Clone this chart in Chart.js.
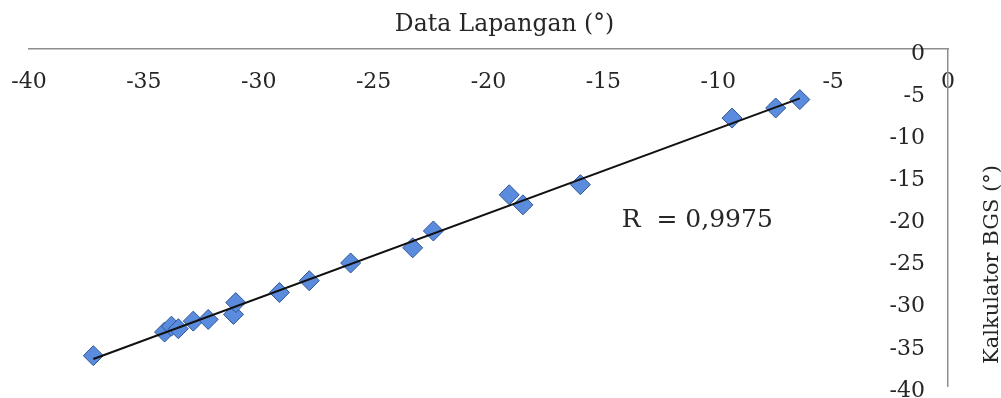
<!DOCTYPE html>
<html>
<head>
<meta charset="utf-8">
<script src="https://cdn.jsdelivr.net/npm/chart.js@4/dist/chart.umd.min.js"></script>
<style>
  html, body { margin: 0; padding: 0; background: #fff; }
  #wrap { width: 1001px; height: 398px; position: relative; }
</style>
</head>
<body>
<div id="wrap"><canvas id="chart"></canvas></div>
<script>
// field data (x) vs BGS calculator (y), in degrees
const dataLapangan = [-37.2, -34.1, -33.8, -33.5, -32.85, -32.2, -31.1, -31.0, -29.1, -27.8, -26.0, -23.3, -22.4, -19.1, -18.5, -16.0, -9.4, -7.5, -6.45];
const kalkulatorBGS = [-36.4, -33.6, -32.9, -33.2, -32.3, -32.1, -31.5, -30.1, -28.9, -27.5, -25.4, -23.6, -21.6, -17.3, -18.5, -16.1, -8.2, -7.0, -6.0];
const rText = 'R  = 0,9975';
const xTitle = 'Data Lapangan (°)';
const yTitle = 'Kalkulator BGS (°)';

const FONT = 'DejaVu Serif';
const TEXT_COLOR = '#262626';
const AXIS_COLOR = '#8e8e8e';

const points = dataLapangan.map((x, i) => ({ x: x, y: kalkulatorBGS[i] }));

// linear trendline (least squares) over the points
const n = points.length;
const mx = dataLapangan.reduce((a, b) => a + b, 0) / n;
const my = kalkulatorBGS.reduce((a, b) => a + b, 0) / n;
let sxy = 0, sxx = 0;
points.forEach(p => { sxy += (p.x - mx) * (p.y - my); sxx += (p.x - mx) * (p.x - mx); });
const slope = sxy / sxx;
const intercept = my - slope * mx;
const xMin = Math.min(...dataLapangan);
const xMax = Math.max(...dataLapangan);
const trend = [
  { x: xMin, y: slope * xMin + intercept },
  { x: xMax, y: slope * xMax + intercept },
];

// axis titles and the R label
const extraText = {
  id: 'extraText',
  afterDraw(chart) {
    const { ctx, chartArea, scales } = chart;
    ctx.save();
    ctx.fillStyle = TEXT_COLOR;
    ctx.textBaseline = 'middle';

    ctx.font = '23.5px "' + FONT + '"';
    ctx.textAlign = 'center';
    ctx.fillText(xTitle, (chartArea.left + chartArea.right) / 2 + 16, chartArea.top - 24);

    ctx.font = '25px "' + FONT + '"';
    ctx.textAlign = 'left';
    ctx.fillText(rText, scales.x.getPixelForValue(-14.2), scales.y.getPixelForValue(-20.4));

    ctx.font = '21px "' + FONT + '"';
    ctx.textAlign = 'center';
    ctx.translate(chartArea.right + 45, (chartArea.top + chartArea.bottom) / 2 + 47);
    ctx.rotate(-Math.PI / 2);
    ctx.fillText(yTitle, 0, 0);
    ctx.restore();
  }
};

new Chart(document.getElementById('chart').getContext('2d'), {
  type: 'scatter',
  data: {
    datasets: [
      {
        label: 'trend',
        data: trend,
        showLine: true,
        borderColor: '#111',
        borderWidth: 2,
        pointRadius: 0,
        order: 0,
      },
      {
        label: 'data',
        data: points,
        pointStyle: 'rectRot',
        pointRadius: 10,
        backgroundColor: '#5b8bdc',
        borderColor: '#2f5597',
        borderWidth: 1,
        order: 1,
      },
    ],
  },
  options: {
    responsive: true,
    maintainAspectRatio: false,
    animation: false,
    layout: { padding: { left: 29, right: 0, top: 0, bottom: 12 } },
    plugins: {
      legend: { display: false },
      tooltip: { enabled: false },
    },
    scales: {
      x: {
        type: 'linear',
        position: 'top',
        min: -40,
        max: 0,
        grid: { display: false, drawTicks: false },
        border: { display: true, color: AXIS_COLOR, width: 1.5 },
        ticks: {
          stepSize: 5,
          mirror: true,
          padding: 20,
          color: TEXT_COLOR,
          font: { family: FONT, size: 22 },
          maxRotation: 0,
          autoSkip: false,
        },
        afterFit: (scale) => {
          scale.height = 49;
          scale.paddingLeft = 0;
          scale.paddingRight = 0;
        },
      },
      y: {
        type: 'linear',
        position: 'right',
        min: -40,
        max: 0,
        grid: { display: false, drawTicks: false },
        border: { display: true, color: AXIS_COLOR, width: 1.5 },
        ticks: {
          stepSize: 5,
          mirror: true,
          padding: -23,
          labelOffset: 5,
          color: TEXT_COLOR,
          font: { family: FONT, size: 22 },
          autoSkip: false,
        },
        afterFit: (scale) => {
          scale.width = 53;
          scale.paddingTop = 0;
          scale.paddingBottom = 0;
        },
      },
    },
  },
  plugins: [extraText],
});
</script>
</body>
</html>
